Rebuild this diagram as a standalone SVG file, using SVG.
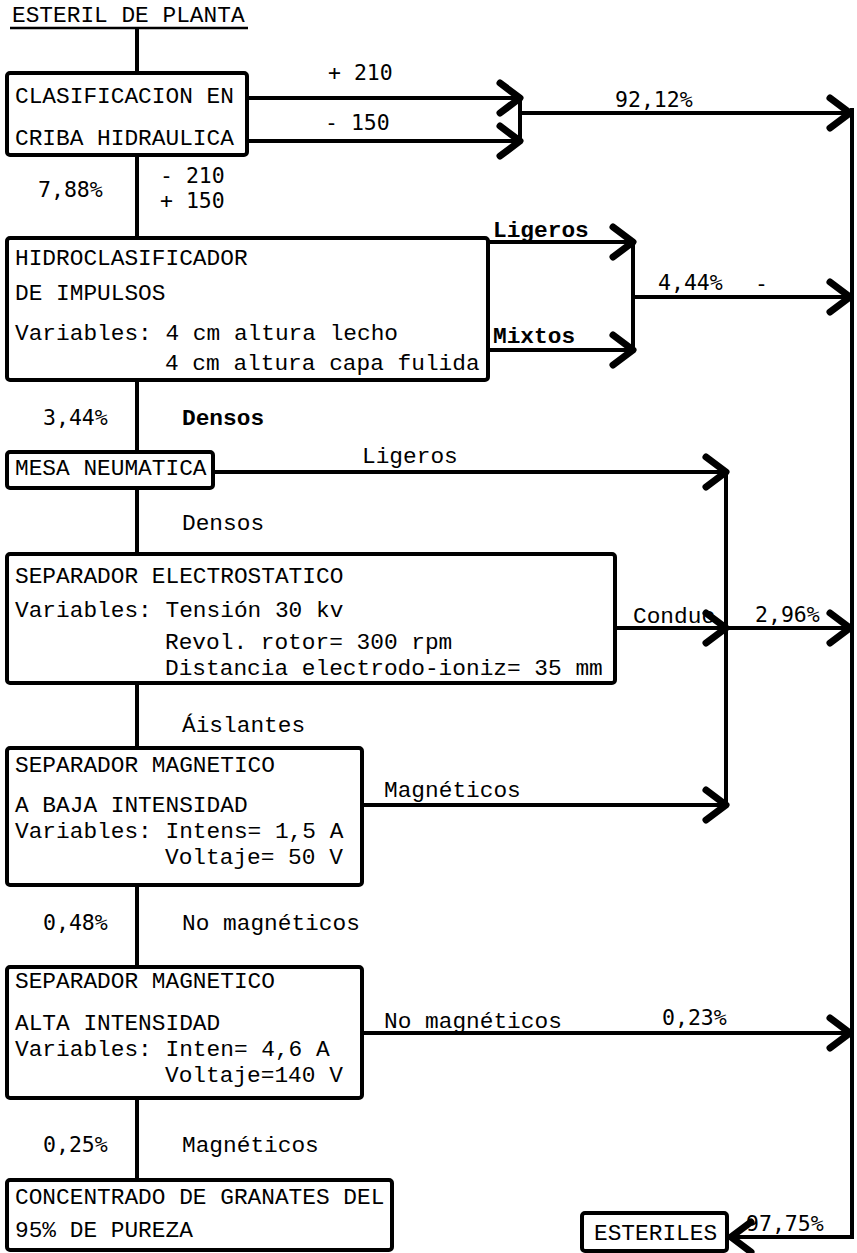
<svg xmlns="http://www.w3.org/2000/svg" width="857" height="1253" viewBox="0 0 857 1253">
<style>
.box{fill:#fff;stroke:#000;stroke-width:4}
.c{fill:none;stroke:#000;stroke-width:4}
.t{font-family:"Liberation Mono","Courier New",monospace;font-size:22.8px;fill:#000}
.b{font-weight:bold}
.n{font-family:"DejaVu Sans Mono","Liberation Mono",monospace;font-size:21.5px;fill:#000}
</style>
<defs>
<marker id="chev" markerUnits="userSpaceOnUse" viewBox="-30 -22 36 44" markerWidth="36" markerHeight="44" refX="0" refY="0" orient="auto">
<path d="M-20,-15 L0,0 L-20,15" fill="none" stroke="#000" stroke-width="7" stroke-linecap="round" stroke-linejoin="round"/>
</marker>
</defs>
<rect width="857" height="1253" fill="#fff"/>

<g id="title">
<text class="t" x="12" y="22">ESTERIL DE PLANTA</text>
<path d="M10,28 H248" stroke="#000" stroke-width="2.5"/>
</g>

<g id="connectors">
<path class="c" d="M137,28 V1180"/>
<path class="c" d="M247,98 H520" marker-end="url(#chev)"/>
<path class="c" d="M247,141 H520" marker-end="url(#chev)"/>
<path class="c" d="M520,98 V143"/>
<path class="c" d="M522,113 H850" marker-end="url(#chev)"/>
<path class="c" d="M852,108 V1237 H731" marker-end="url(#chev)"/>
<path class="c" d="M488,242 H633" marker-end="url(#chev)"/>
<path class="c" d="M488,350 H633" marker-end="url(#chev)"/>
<path class="c" d="M633,242 V350"/>
<path class="c" d="M633,297 H850" marker-end="url(#chev)"/>
<path class="c" d="M213,472 H726" marker-end="url(#chev)"/>
<path class="c" d="M726,472 V805"/>
<path class="c" d="M615,628 H726" marker-end="url(#chev)"/>
<path class="c" d="M726,628 H850" marker-end="url(#chev)"/>
<path class="c" d="M362,805 H726" marker-end="url(#chev)"/>
<path class="c" d="M362,1033 H850" marker-end="url(#chev)"/>
</g>

<g id="labels">
<text class="n" x="328" y="80">+ 210</text>
<text class="n" x="325" y="130">- 150</text>
<text class="n" x="615" y="107">92,12%</text>
<text class="n" x="160" y="183">- 210</text>
<text class="n" x="160" y="208">+ 150</text>
<text class="n" x="38" y="197">7,88%</text>
<text class="t b" x="493" y="237">Ligeros</text>
<text class="t b" x="493" y="343">Mixtos</text>
<text class="n" x="658" y="290">4,44%</text>
<text class="n" x="755" y="291">-</text>
<text class="n" x="43" y="425">3,44%</text>
<text class="t b" x="182" y="425">Densos</text>
<text class="t" x="362" y="463">Ligeros</text>
<text class="t" x="182" y="530">Densos</text>
<text class="t" x="633" y="623">Conduc</text>
<text class="n" x="755" y="622">2,96%</text>
<text class="t" x="182" y="732">Áislantes</text>
<text class="t" x="384" y="797">Magnéticos</text>
<text class="n" x="43" y="930">0,48%</text>
<text class="t" x="182" y="930">No magnéticos</text>
<text class="t" x="384" y="1028">No magnéticos</text>
<text class="n" x="662" y="1025">0,23%</text>
<text class="n" x="43" y="1152">0,25%</text>
<text class="t" x="182" y="1152">Magnéticos</text>
<text class="n" x="746" y="1231">97,75%</text>
</g>

<g id="n1">
<rect class="box" x="7" y="73" width="240" height="82" rx="3"/>
<text class="t" x="15" y="103">CLASIFICACION EN</text>
<text class="t" x="15" y="145">CRIBA HIDRAULICA</text>
</g>

<g id="n2">
<rect class="box" x="7" y="238" width="481" height="142" rx="3"/>
<text class="t" x="15" y="265">HIDROCLASIFICADOR</text>
<text class="t" x="15" y="300">DE IMPULSOS</text>
<text class="t" x="15" y="340">Variables: 4 cm altura lecho</text>
<text class="t" x="165" y="370">4 cm altura capa fulida</text>
</g>

<g id="n3">
<rect class="box" x="7" y="452" width="206" height="36" rx="3"/>
<text class="t" x="15" y="475">MESA NEUMATICA</text>
</g>

<g id="n4">
<rect class="box" x="7" y="554" width="608" height="129" rx="3"/>
<text class="t" x="15" y="583">SEPARADOR ELECTROSTATICO</text>
<text class="t" x="15" y="617">Variables: Tensión 30 kv</text>
<text class="t" x="165" y="649">Revol. rotor= 300 rpm</text>
<text class="t" x="165" y="675">Distancia electrodo-ioniz= 35 mm</text>
</g>

<g id="n5">
<rect class="box" x="7" y="748" width="355" height="137" rx="3"/>
<text class="t" x="15" y="772">SEPARADOR MAGNETICO</text>
<text class="t" x="15" y="812">A BAJA INTENSIDAD</text>
<text class="t" x="15" y="838">Variables: Intens= 1,5 A</text>
<text class="t" x="165" y="864">Voltaje= 50 V</text>
</g>

<g id="n6">
<rect class="box" x="7" y="967" width="355" height="131" rx="3"/>
<text class="t" x="15" y="988">SEPARADOR MAGNETICO</text>
<text class="t" x="15" y="1030">ALTA INTENSIDAD</text>
<text class="t" x="15" y="1056">Variables: Inten= 4,6 A</text>
<text class="t" x="165" y="1082">Voltaje=140 V</text>
</g>

<g id="n7">
<rect class="box" x="7" y="1180" width="385" height="70" rx="3"/>
<text class="t" x="15" y="1204">CONCENTRADO DE GRANATES DEL</text>
<text class="t" x="15" y="1237">95% DE PUREZA</text>
</g>

<g id="n8">
<rect class="box" x="582" y="1213" width="145" height="38" rx="3"/>
<text class="t" x="594" y="1240" font-size="21.5">ESTERILES</text>
</g>
</svg>
